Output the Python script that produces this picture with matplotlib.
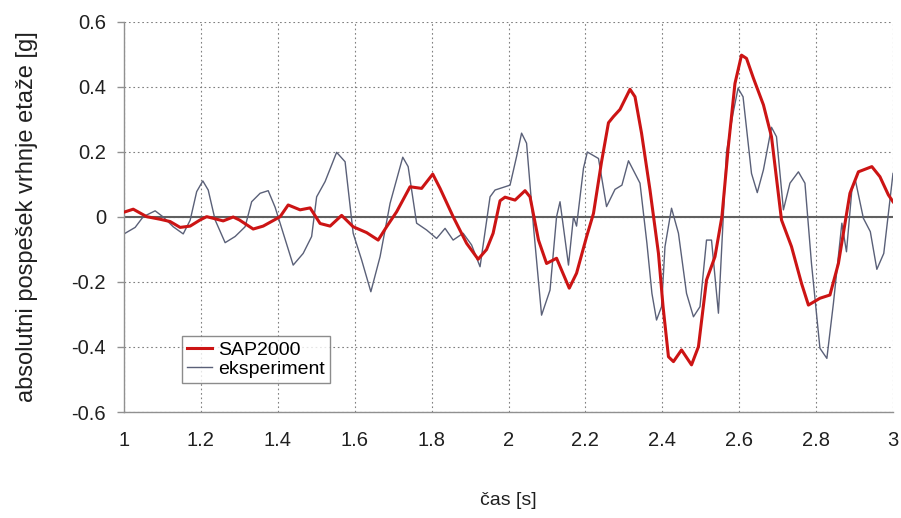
import matplotlib
matplotlib.use("Agg")
import matplotlib.pyplot as plt

plt.rcParams['font.family'] = ['Liberation Sans', 'DejaVu Sans']

# SAP2000 series
sap_t = [1.003, 1.024, 1.059, 1.094, 1.12, 1.146, 1.172, 1.198, 1.215, 1.232, 1.258, 1.284, 1.30,
         1.336, 1.362, 1.388, 1.406, 1.427, 1.458, 1.484, 1.51, 1.536, 1.566, 1.596, 1.631, 1.661,
         1.683, 1.709, 1.744, 1.774, 1.803, 1.822, 1.856, 1.891, 1.921, 1.943, 1.96, 1.978, 1.991,
         2.017, 2.043, 2.056, 2.078, 2.099, 2.125, 2.158, 2.177, 2.203, 2.221, 2.242, 2.26, 2.273,
         2.29, 2.316, 2.329, 2.346, 2.368, 2.39, 2.402, 2.416, 2.429, 2.45, 2.476, 2.494, 2.515,
         2.537, 2.555, 2.572, 2.589, 2.606, 2.619, 2.637, 2.663, 2.684, 2.71, 2.736, 2.762, 2.78,
         2.81, 2.836, 2.858, 2.888, 2.91, 2.945, 2.966, 2.988, 3.0]
sap_a = [0.016, 0.024, 0.001, -0.007, -0.014, -0.032, -0.028, -0.009, 0.001, -0.004, -0.012, 0.0, -0.009,
         -0.037, -0.028, -0.011, 0.001, 0.037, 0.022, 0.028, -0.02, -0.028, 0.005, -0.03, -0.048, -0.071,
         -0.03, 0.016, 0.093, 0.088, 0.132, 0.088, 0.001, -0.081, -0.13, -0.10, -0.05, 0.05, 0.061,
         0.052, 0.081, 0.062, -0.071, -0.143, -0.127, -0.219, -0.173, -0.061, 0.011, 0.17, 0.29, 0.309,
         0.331, 0.393, 0.37, 0.258, 0.083, -0.112, -0.276, -0.43, -0.445, -0.409, -0.455, -0.399, -0.194,
         -0.122, 0.001, 0.22, 0.411, 0.498, 0.488, 0.427, 0.345, 0.247, -0.009, -0.091, -0.204, -0.271,
         -0.25, -0.24, -0.143, 0.073, 0.139, 0.155, 0.124, 0.068, 0.047]

# experiment series
exp_t = [1.003, 1.029, 1.050, 1.081, 1.102, 1.128, 1.154, 1.172, 1.189, 1.205, 1.219, 1.237, 1.263,
         1.289, 1.315, 1.332, 1.354, 1.375, 1.393, 1.406, 1.44, 1.466, 1.488, 1.501, 1.523, 1.553,
         1.575, 1.596, 1.618, 1.642, 1.666, 1.692, 1.725, 1.739, 1.761, 1.787, 1.813, 1.835, 1.856,
         1.882, 1.904, 1.926, 1.952, 1.965, 2.004, 2.021, 2.034, 2.047, 2.065, 2.086, 2.108, 2.125,
         2.134, 2.156, 2.169, 2.177, 2.195, 2.205, 2.234, 2.255, 2.277, 2.295, 2.312, 2.329, 2.342,
         2.36, 2.373, 2.385, 2.398, 2.407, 2.424, 2.442, 2.463, 2.481, 2.498, 2.515, 2.528, 2.546,
         2.567, 2.584, 2.597, 2.61, 2.632, 2.647, 2.663, 2.684, 2.697, 2.715, 2.732, 2.754, 2.771,
         2.788, 2.81, 2.828, 2.845, 2.867, 2.879, 2.893, 2.902, 2.923, 2.941, 2.958, 2.976, 3.0]
exp_a = [-0.05, -0.032, 0.001, 0.019, 0.0, -0.03, -0.052, -0.01, 0.078, 0.111, 0.083, -0.009, -0.079,
         -0.06, -0.03, 0.047, 0.073, 0.081, 0.03, -0.019, -0.148, -0.112, -0.06, 0.062, 0.109, 0.199,
         0.170, -0.05, -0.132, -0.23, -0.122, 0.042, 0.184, 0.155, -0.019, -0.04, -0.066, -0.035, -0.071,
         -0.05, -0.086, -0.153, 0.062, 0.083, 0.098, 0.186, 0.258, 0.227, -0.03, -0.302, -0.225, 0.001,
         0.047, -0.148, 0.001, -0.028, 0.15, 0.20, 0.18, 0.032, 0.085, 0.098, 0.173, 0.134, 0.104,
         -0.081, -0.235, -0.317, -0.276, -0.091, 0.027, -0.05, -0.235, -0.307, -0.276, -0.071, -0.071, -0.296,
         0.2, 0.319, 0.396, 0.37, 0.134, 0.075, 0.145, 0.276, 0.247, 0.022, 0.104, 0.139, 0.104,
         -0.143, -0.404, -0.435, -0.266, -0.019, -0.107, 0.083, 0.114, -0.004, -0.045, -0.161, -0.112, 0.134]

x_ticks = [1, 1.2, 1.4, 1.6, 1.8, 2, 2.2, 2.4, 2.6, 2.8, 3]
x_labels = ['1', '1.2', '1.4', '1.6', '1.8', '2', '2.2', '2.4', '2.6', '2.8', '3']
y_ticks = [-0.6, -0.4, -0.2, 0, 0.2, 0.4, 0.6]
y_labels = ['-0.6', '-0.4', '-0.2', '0', '0.2', '0.4', '0.6']

fig = plt.figure(figsize=(9.01, 5.18), dpi=100)
ax = fig.add_axes([124/901, 1-412/518, (893-124)/901, (412-22)/518])

ax.set_xlim(1, 3)
ax.set_ylim(-0.6, 0.6)

ax.grid(True, color='#808080', linestyle=(0, (1.5, 2.5)), linewidth=0.8)
ax.set_axisbelow(True)
ax.axhline(0, color='#606060', linewidth=1.5, zorder=1.5)

ax.plot(exp_t, exp_a, color='#5a6078', linewidth=1.0, label='eksperiment', zorder=2)
ax.plot(sap_t, sap_a, color='#cc1414', linewidth=2.2, label='SAP2000', zorder=3)

for s in ['top', 'right']:
    ax.spines[s].set_visible(False)
for s in ['left', 'bottom']:
    ax.spines[s].set_color('#909090')
    ax.spines[s].set_linewidth(1.0)

ax.set_xticks(x_ticks)
ax.set_xticklabels(x_labels)
ax.set_yticks(y_ticks)
ax.set_yticklabels(y_labels)
ax.tick_params(axis='x', length=0, pad=14, labelsize=14.5, colors='#202020')
ax.tick_params(axis='y', length=5, width=1, color='#909090', pad=8, labelsize=14.5, labelcolor='#202020')

ax.set_xlabel('čas [s]', fontsize=14, labelpad=30, color='#202020')
ax.set_ylabel('absolutni pospešek vrhnje etaže [g]', fontsize=17, labelpad=24, color='#202020')

handles, labels = ax.get_legend_handles_labels()
leg = ax.legend(handles[::-1], labels[::-1], loc='lower left',
                bbox_to_anchor=((182-124)/769, (412-383)/390),
                fontsize=14, frameon=True, fancybox=False, edgecolor='#707070',
                handlelength=1.3, handletextpad=0.3, borderpad=0.25, labelspacing=0.1,
                borderaxespad=0)
leg.get_frame().set_linewidth(1.0)

fig.savefig('out.png', dpi=100)
